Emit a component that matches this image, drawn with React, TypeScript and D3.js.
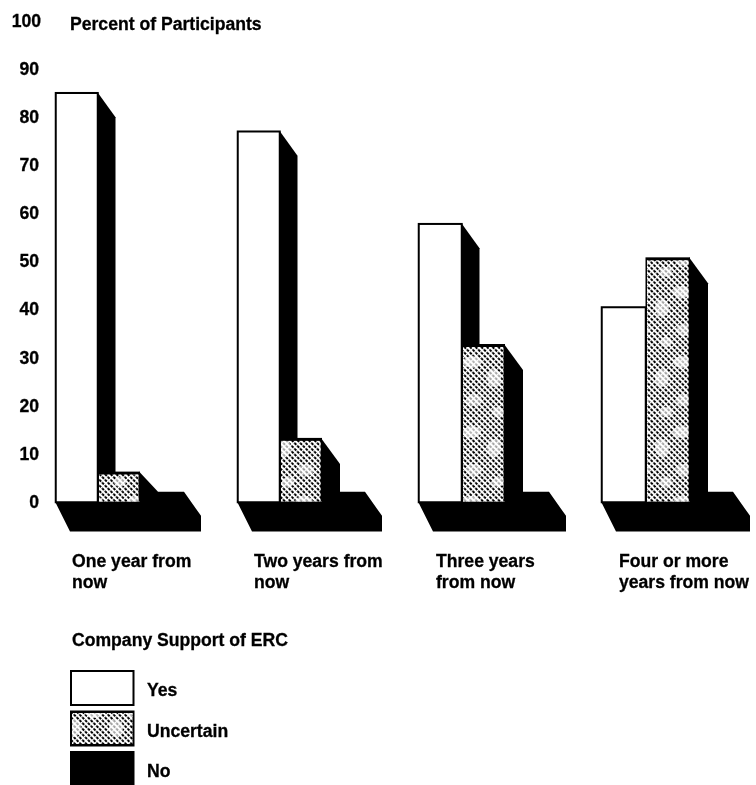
import React from "react";
import * as d3 from "d3";

const categories = [["One year from", "now"], ["Two years from", "now"], ["Three years", "from now"], ["Four or more", "years from now"]];
const yesValues = [85, 77, 57.8, 40.5];
const uncertainValues = [6, 13, 32.5, 50.5];
const noValues = [2, 2, 2, 2];
const yTicks = [0, 10, 20, 30, 40, 50, 60, 70, 80, 90, 100];
const legendItems = ["Yes", "Uncertain", "No"];
const groupLeft = [55, 237, 418, 601];
const labelLeft = [72, 254, 436, 619];
const barWidths = [42.5, 42.5, 43.5, 44.5];
const floorWidths = [146, 145, 148, 149];

const y = d3.scaleLinear().domain([0, 100]).range([501.5, 20]);
const DX = 18, DY = 25;
const font = "'Liberation Sans', Arial, sans-serif";

const poly = (pts: [number, number][]) => (d3.line()(pts) ?? "") + "Z";

function Label({ x, yy, children, size = 17.6 }: any) {
  return (
    <text x={x} y={yy} fontFamily={font} fontWeight={700} fontSize={size} fill="#000" stroke="#000" strokeWidth={0.3}>
      {children}
    </text>
  );
}

function Hatch({ x, yy, w, h }: any) {
  return (
    <>
      <rect x={x} y={yy} width={w} height={h} fill="url(#dots)" />
      <rect x={x} y={yy} width={w} height={h} fill="url(#cross)" />
      <rect x={x} y={yy} width={w} height={h} fill="url(#blotch)" />
    </>
  );
}

export default function App() {
  return (
    <svg width={756} height={785} style={{ position: "absolute", left: 0, top: 0, background: "#fff" }}>
      <defs>
        <pattern id="dots" width={4} height={4} patternUnits="userSpaceOnUse" patternTransform="rotate(45)">
          <rect width={4} height={4} fill="#fff" />
          <rect x={0} y={0} width={4} height={2} fill="#000" />
        </pattern>
        <pattern id="cross" width={4} height={4} patternUnits="userSpaceOnUse" patternTransform="rotate(45)">
          <rect width={1.3} height={4} fill="#fff" />
        </pattern>
        <pattern id="blotch" width={42} height={70} patternUnits="userSpaceOnUse">
          <ellipse cx={10} cy={12} rx={9} ry={6} fill="#fff" opacity={0.7} />
          <ellipse cx={32} cy={28} rx={7} ry={9} fill="#fff" opacity={0.65} />
          <ellipse cx={12} cy={50} rx={8} ry={6} fill="#fff" opacity={0.6} />
          <ellipse cx={36} cy={62} rx={6} ry={5} fill="#fff" opacity={0.65} />
        </pattern>
        <filter id="soft" x="0" y="0" width="100%" height="100%">
          <feGaussianBlur stdDeviation={0.35} />
        </filter>
      </defs>
      <g filter="url(#soft)">
        <Label x={70} yy={30}>Percent of Participants</Label>
        {yTicks.map((t) => (
          <text key={t} x={t === 100 ? 41 : 39} y={y(t) + 6.5} textAnchor="end" fontFamily={font} fontWeight={700} fontSize={17.6} stroke="#000" strokeWidth={0.3}>
            {t}
          </text>
        ))}
        {categories.map((lines, i) => {
          const x0 = groupLeft[i];
          const W = barWidths[i];
          const F = floorWidths[i];
          const yes = y(yesValues[i]);
          const unc = y(uncertainValues[i]);
          const no = y(noValues[i]);
          const b = y(0);
          return (
            <g key={i}>
              <path
                d={poly([
                  [x0, b], [x0 + 15, b + 30], [x0 + F, b + 30], [x0 + F, no + 24],
                  [x0 + F - 17, no], [x0 + 2 * W, no], [x0 + 2 * W, b],
                ])}
                fill="#000"
              />
              <path d={poly([[x0 + W, yes], [x0 + W + DX, yes + DY], [x0 + W + DX, b], [x0 + W, b]])} fill="#000" />
              <path d={poly([[x0 + 2 * W - 1, unc - 1], [x0 + 2 * W + DX, Math.min(unc + DY, no)], [x0 + 2 * W + DX, b], [x0 + 2 * W, b]])} fill="#000" />
              <rect x={x0 + 0.75} y={yes + 0.75} width={W - 0.5} height={b - yes} fill="#fff" stroke="#000" strokeWidth={2} />
              <rect x={x0 + W} y={unc - 1} width={W} height={b - unc + 1} fill="#000" />
              <Hatch x={x0 + W + 1.5} yy={unc + 2} w={W - 3} h={b - unc - 2} />
              <Label x={labelLeft[i]} yy={567}>{lines[0]}</Label>
              <Label x={labelLeft[i]} yy={588}>{lines[1]}</Label>
            </g>
          );
        })}
        <Label x={72} yy={646}>Company Support of ERC</Label>
        {legendItems.map((name, i) => {
          const top = 670 + i * 40.5;
          return (
            <g key={name}>
              <rect x={70} y={top} width={64.5} height={36} fill="#000" />
              {i === 0 && <rect x={72} y={top + 2} width={60.5} height={32} fill="#fff" />}
              {i === 1 && <Hatch x={72} yy={top + 2.5} w={60.5} h={31} />}
              <Label x={147} yy={top + 26}>{name}</Label>
            </g>
          );
        })}
      </g>
    </svg>
  );
}
